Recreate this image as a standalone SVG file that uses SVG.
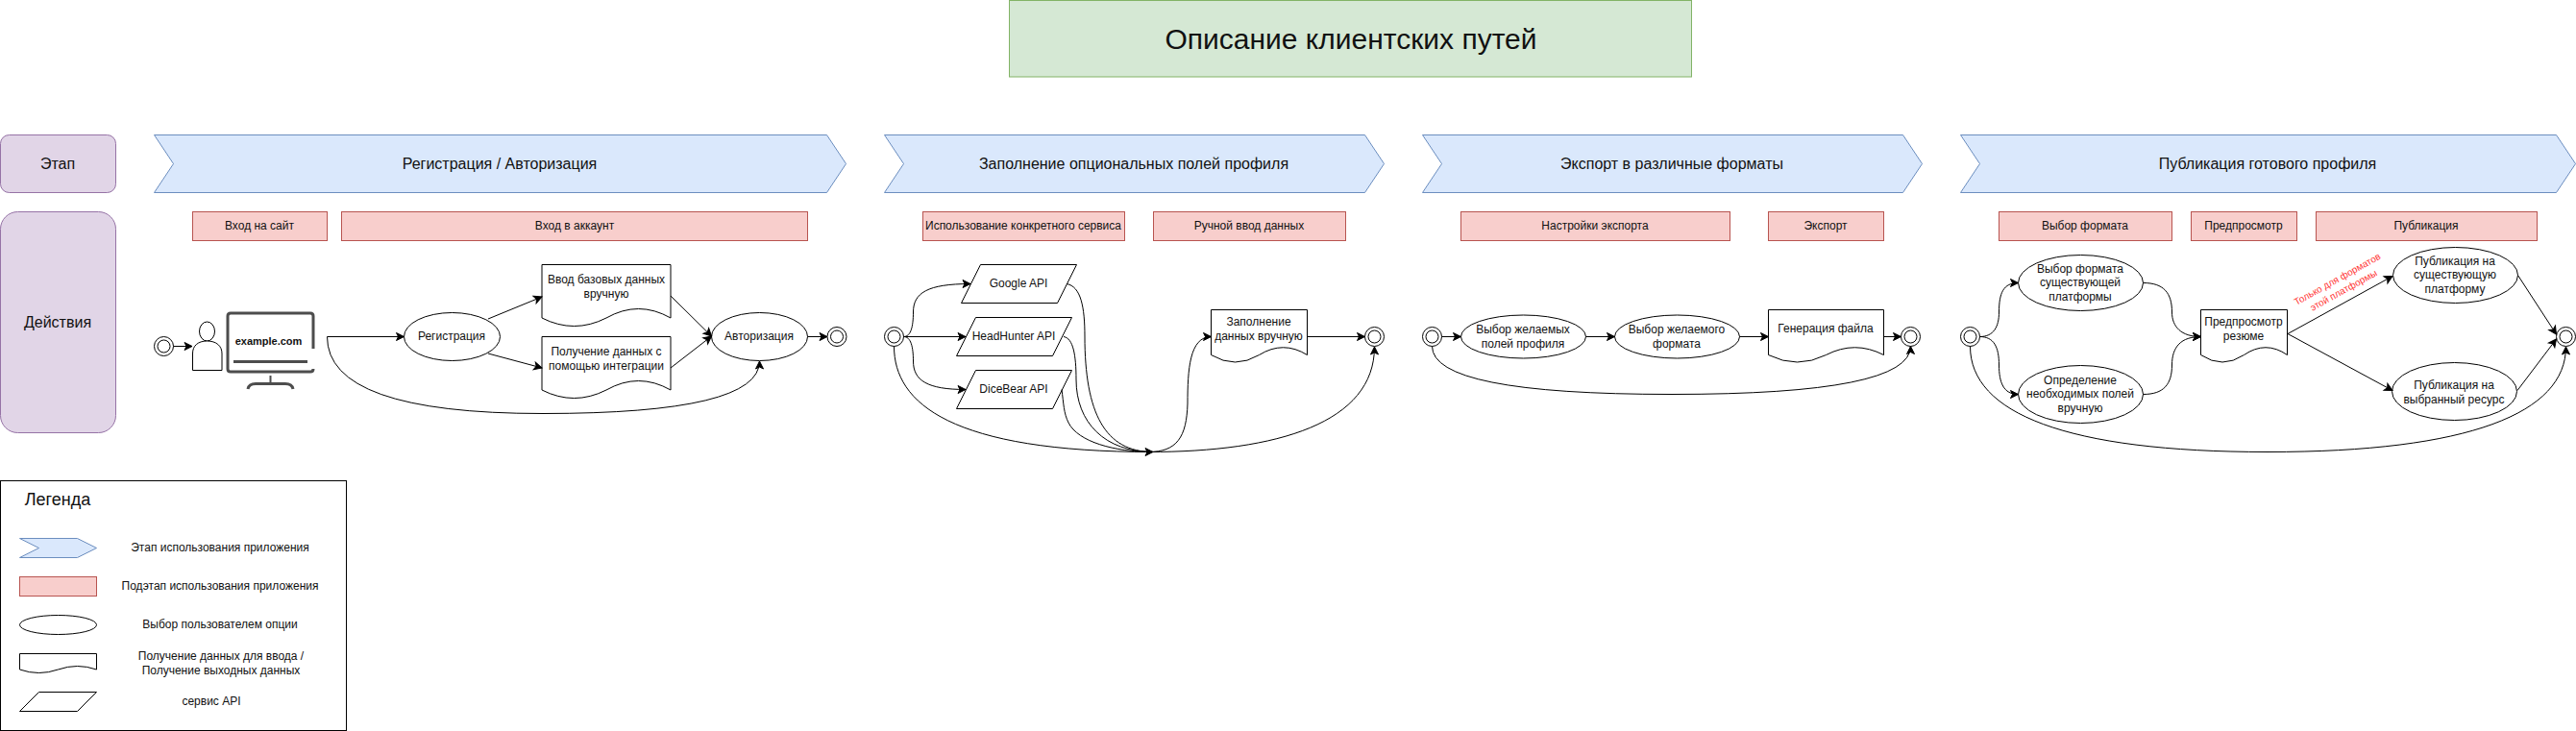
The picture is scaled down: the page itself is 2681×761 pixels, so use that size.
<svg xmlns="http://www.w3.org/2000/svg" width="2681" height="761" viewBox="0 0 2681 761">
<style>
text{font-family:"Liberation Sans",Arial,Helvetica,sans-serif;font-size:12px;fill:#111;text-anchor:middle;dominant-baseline:central}
.l16{font-size:16px}
.l18{font-size:18px}
.stage{fill:#dae8fc;stroke:#6c8ebf}
.sub{fill:#f8cecc;stroke:#b85450}
.role{fill:#e1d5e7;stroke:#9673a6}
.sh{fill:#fff;stroke:#000}
.c{fill:none;stroke:#000;marker-end:url(#a)}
.p{fill:none;stroke:#000}
.mon{fill:none;stroke:#4d4d4d;stroke-width:3}
.red{font-size:10px;fill:#ff3333}
</style>
<defs>
<marker id="a" markerUnits="userSpaceOnUse" markerWidth="12" markerHeight="12" refX="9" refY="5" orient="auto" overflow="visible"><path d="M1 1 L9 5 L1 9 L3 5 Z" fill="#000" stroke="#000"/></marker>
<g id="st"><circle r="10" class="sh"/><circle r="6.5" class="sh"/></g>
</defs>
<rect width="2681" height="761" fill="#fff"/>

<g id="title"><rect x="1050.5" y="0.5" width="710" height="79.5" fill="#d5e8d4" stroke="#82b366"/><text x="1406" y="40" style="font-size:30px">Описание клиентских путей</text></g>
<g id="role-stage"><rect class="role" x="0.5" y="140.5" width="120" height="60" rx="9"/><text class="l16" x="60" y="170">Этап</text></g>
<g id="role-actions"><rect class="role" x="0.5" y="220.5" width="120" height="230" rx="18"/><text class="l16" x="60" y="335">Действия</text></g>

<g id="stage1"><path class="stage" d="M160.5 140.5H860.5L880.5 170.5L860.5 200.5H160.5L180.5 170.5Z"/><text class="l16" x="520" y="170">Регистрация / Авторизация</text></g>
<g id="stage2"><path class="stage" d="M920.5 140.5H1420.5L1440.5 170.5L1420.5 200.5H920.5L940.5 170.5Z"/><text class="l16" x="1180" y="170">Заполнение опциональных полей профиля</text></g>
<g id="stage3"><path class="stage" d="M1480.5 140.5H1980.5L2000.5 170.5L1980.5 200.5H1480.5L1500.5 170.5Z"/><text class="l16" x="1740" y="170">Экспорт в различные форматы</text></g>
<g id="stage4"><path class="stage" d="M2040.5 140.5H2660.5L2680.5 170.5L2660.5 200.5H2040.5L2060.5 170.5Z"/><text class="l16" x="2360" y="170">Публикация готового профиля</text></g>

<g id="sub1"><rect class="sub" x="200.5" y="220.5" width="140" height="30"/><text x="270" y="235">Вход на сайт</text></g>
<g id="sub2"><rect class="sub" x="355.5" y="220.5" width="485" height="30"/><text x="598" y="235">Вход в аккаунт</text></g>
<g id="sub3"><rect class="sub" x="960.5" y="220.5" width="210" height="30"/><text x="1065" y="235">Использование конкретного сервиса</text></g>
<g id="sub4"><rect class="sub" x="1200.5" y="220.5" width="200" height="30"/><text x="1300" y="235">Ручной ввод данных</text></g>
<g id="sub5"><rect class="sub" x="1520.5" y="220.5" width="280" height="30"/><text x="1660" y="235">Настройки экспорта</text></g>
<g id="sub6"><rect class="sub" x="1840.5" y="220.5" width="120" height="30"/><text x="1900" y="235">Экспорт</text></g>
<g id="sub7"><rect class="sub" x="2080.5" y="220.5" width="180" height="30"/><text x="2170" y="235">Выбор формата</text></g>
<g id="sub8"><rect class="sub" x="2280.5" y="220.5" width="110" height="30"/><text x="2335" y="235">Предпросмотр</text></g>
<g id="sub9"><rect class="sub" x="2410.5" y="220.5" width="230" height="30"/><text x="2525" y="235">Публикация</text></g>

<g id="start1"><use href="#st" x="170.5" y="360.5"/></g>
<g id="person"><ellipse class="sh" cx="215.5" cy="345" rx="8" ry="10"/><path class="sh" d="M200.5 385.5V368C200.5 360 206 355 215.5 355C225 355 231 360 231 368V385.5Z"/></g>
<g id="monitor"><path class="mon" d="M326 363V329Q326 326 323 326H240Q237 326 237 329V384Q237 387 240 387H323Q326 387 326 384"/><path class="mon" d="M243 376.5H320"/><path d="M281.5 391V399" stroke="#4d4d4d" stroke-width="2" fill="none"/><path class="mon" d="M258 405Q259 399.5 266 399.5H297Q304 399.5 305 405"/><text x="279.5" y="355" style="font-size:11px;font-weight:bold">example.com</text></g>
<g id="n-reg"><ellipse class="sh" cx="470.5" cy="350.5" rx="50" ry="25"/><text x="470" y="350">Регистрация</text></g>
<g id="n-manual"><path class="sh" d="M564 275.5H698V331Q664.5 312 631 331Q597.5 348 564 331Z"/><text x="631" y="291">Ввод базовых данных</text><text x="631" y="306">вручную</text></g>
<g id="n-integr"><path class="sh" d="M564 350.5H698V406Q664.5 387 631 406Q597.5 423 564 406Z"/><text x="631" y="366">Получение данных с</text><text x="631" y="381">помощью интеграции</text></g>
<g id="n-auth"><ellipse class="sh" cx="790.5" cy="350.5" rx="50" ry="25"/><text x="790" y="350">Авторизация</text></g>
<g id="end1"><use href="#st" x="871" y="350.5"/></g>

<g id="start2"><use href="#st" x="930.5" y="350.5"/></g>
<g id="n-google"><path class="sh" d="M1020.5 275.5H1120.5L1100.5 315.5H1000.5Z"/><text x="1060" y="295">Google API</text></g>
<g id="n-hh"><path class="sh" d="M1015.5 330.5H1115.5L1095.5 370.5H995.5Z"/><text x="1055" y="350">HeadHunter API</text></g>
<g id="n-dice"><path class="sh" d="M1015.5 385.5H1115.5L1095.5 425.5H995.5Z"/><text x="1055" y="405">DiceBear API</text></g>
<g id="n-fill"><path class="sh" d="M1260.5 322.5H1360.5V369.5Q1335.5 354 1310.5 369.5Q1285.5 384.5 1260.5 369.5Z"/><text x="1310" y="335">Заполнение</text><text x="1310" y="350">данных вручную</text></g>
<g id="end2"><use href="#st" x="1430.5" y="350.5"/></g>

<g id="start3"><use href="#st" x="1490.5" y="350.5"/></g>
<g id="n-fields"><ellipse class="sh" cx="1585.5" cy="350.5" rx="65" ry="22.5"/><text x="1585" y="343">Выбор желаемых</text><text x="1585" y="358">полей профиля</text></g>
<g id="n-format"><ellipse class="sh" cx="1745.5" cy="350.5" rx="65" ry="22.5"/><text x="1745" y="343">Выбор желаемого</text><text x="1745" y="358">формата</text></g>
<g id="n-gen"><path class="sh" d="M1840.5 322.5H1960.5V369.5Q1930.5 354 1900.5 369.5Q1870.5 384.5 1840.5 369.5Z"/><text x="1900" y="342">Генерация файла</text></g>
<g id="end3"><use href="#st" x="1988.5" y="350.5"/></g>

<g id="start4"><use href="#st" x="2050.5" y="350.5"/></g>
<g id="n-exist"><ellipse class="sh" cx="2165.5" cy="294.5" rx="65" ry="29"/><text x="2165" y="280">Выбор формата</text><text x="2165" y="294">существующей</text><text x="2165" y="309">платформы</text></g>
<g id="n-def"><ellipse class="sh" cx="2165.5" cy="410.5" rx="65" ry="30"/><text x="2165" y="396">Определение</text><text x="2165" y="410">необходимых полей</text><text x="2165" y="425">вручную</text></g>
<g id="n-prev"><path class="sh" d="M2290.5 322.5H2380.5V369.5Q2358 354 2335.5 369.5Q2313 384.5 2290.5 369.5Z"/><text x="2335" y="335">Предпросмотр</text><text x="2335" y="350">резюме</text></g>
<g id="n-pub1"><ellipse class="sh" cx="2555.5" cy="286.5" rx="65" ry="29"/><text x="2555" y="272">Публикация на</text><text x="2555" y="286">существующую</text><text x="2555" y="301">платформу</text></g>
<g id="n-pub2"><ellipse class="sh" cx="2554.5" cy="407.5" rx="65" ry="30"/><text x="2554" y="401">Публикация на</text><text x="2554" y="416">выбранный ресурс</text></g>
<g id="end4"><use href="#st" x="2670.5" y="350.5"/></g>
<g id="red-label"><text class="red" transform="translate(2432.5 290.5) rotate(-29)">Только для форматов</text><text class="red" transform="translate(2439 302) rotate(-29)">этой платформы</text></g>

<g id="legend">
<rect x="0.5" y="500.5" width="360" height="260" fill="#fff" stroke="#000"/>
<text class="l18" x="60" y="520">Легенда</text>
<path class="stage" d="M20.5 560.5H80.5L100.5 570.5L80.5 580.5H20.5L40.5 570.5Z"/><text x="229" y="570">Этап использования приложения</text>
<rect class="sub" x="20.5" y="600.5" width="80" height="20"/><text x="229" y="610">Подэтап использования приложения</text>
<ellipse class="sh" cx="60.5" cy="650.5" rx="40" ry="10"/><text x="229" y="650">Выбор пользователем опции</text>
<path class="sh" d="M20.5 680.5H100.5V697Q80.5 690 60.5 697Q40.5 704 20.5 697Z"/><text x="230" y="683">Получение данных для ввода /</text><text x="230" y="698">Получение выходных данных</text>
<path class="sh" d="M40.5 720.5H100.5L80.5 740.5H20.5Z"/><text x="220" y="730">сервис API</text>
</g>

<g id="connectors">
<path class="c" d="M180.5 360.5H200"/>
<path class="c" d="M340.5 350.5H420.5"/>
<path class="c" d="M340.5 350.5Q340.5 430.5 565 430.5Q790.5 430.5 790.5 376"/>
<path class="c" d="M508 332L564 309"/>
<path class="c" d="M508 368L564 383"/>
<path class="c" d="M698 308L740.5 350"/>
<path class="c" d="M698 383L740.5 350"/>
<path class="c" d="M840.5 350.5H861"/>

<path class="c" d="M940.5 350.5C948 350.5 950.5 340 950.5 325C950.5 305 965 295.5 1010 295.5"/>
<path class="c" d="M940.5 350.5H1005"/>
<path class="c" d="M940.5 350.5C948 350.5 950.5 361 950.5 376C950.5 396 965 405.5 1005 405.5"/>
<path class="p" d="M1110 295.5C1125 298 1129 320 1129 350C1129 430 1150 470.5 1200 470.5"/>
<path class="p" d="M1107 350.5C1117 352 1120 370 1120 395C1120 440 1150 470.5 1200 470.5"/>
<path class="p" d="M1105 405.5C1107 420 1107 430 1112 440C1122 460 1160 470.5 1200 470.5"/>
<path class="c" d="M930.5 360.5C930.5 420 990 470.5 1200 470.5"/>
<path class="c" d="M1195 470.5C1225 470.5 1235 455 1236 420C1236 385 1238 350.5 1260.5 350.5"/>
<path class="c" d="M1195 470.5C1330 470.5 1430.5 440 1430.5 361"/>
<path class="c" d="M1360.5 350.5H1420.5"/>

<path class="c" d="M1500.5 350.5H1520.5"/>
<path class="c" d="M1650.5 350.5H1680.5"/>
<path class="c" d="M1810.5 350.5H1840.5"/>
<path class="c" d="M1960.5 350.5H1978.5"/>
<path class="c" d="M1490.5 360.5Q1490.5 410.5 1740 410.5Q1988.5 410.5 1988.5 360.5"/>

<path class="c" d="M2060.5 350.5C2075 350.5 2080.5 340 2080.5 325C2080.5 305 2085 294.5 2100.5 294.5"/>
<path class="c" d="M2060.5 350.5C2075 350.5 2080.5 361 2080.5 380C2080.5 398 2085 410.5 2100.5 410.5"/>
<path class="c" d="M2230.5 294.5C2252 294.5 2260.5 305 2260.5 325C2260.5 340 2270 350.5 2290.5 350.5"/>
<path class="c" d="M2230.5 410.5C2252 410.5 2260.5 400 2260.5 380C2260.5 361 2270 350.5 2290.5 350.5"/>
<path class="c" d="M2381 347.5L2490 287.5"/>
<path class="c" d="M2381 347.5L2490 406.5"/>
<path class="c" d="M2620.5 286.5L2660.5 348"/>
<path class="c" d="M2620 406.5L2660.5 353"/>
<path class="c" d="M2050.5 360.5C2050.5 430 2150 470.5 2360 470.5C2570 470.5 2670.5 430 2670.5 361"/>
</g>
</svg>
